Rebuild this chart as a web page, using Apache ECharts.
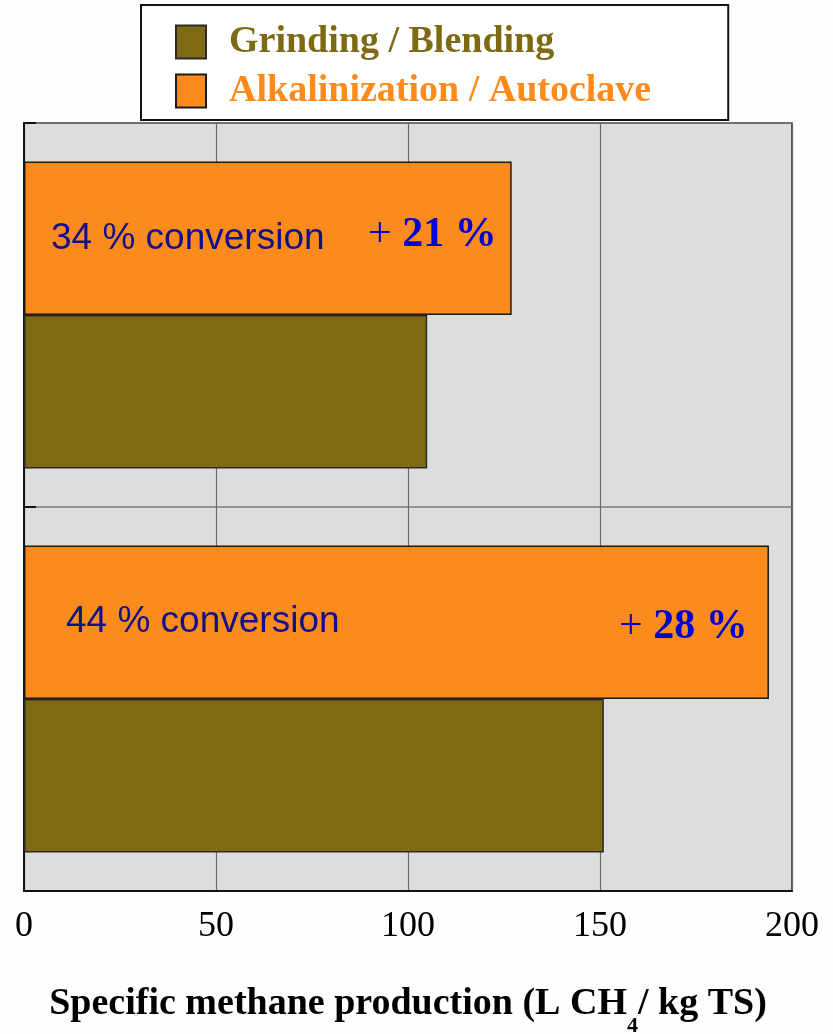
<!DOCTYPE html>
<html>
<head>
<meta charset="utf-8">
<title>Specific methane production</title>
<script src="https://cdn.jsdelivr.net/npm/echarts@6/dist/echarts.min.js"></script>
<style>
  html, body { margin: 0; padding: 0; background: #fdfffe; }
  #chart { width: 833px; height: 1034px; }
</style>
</head>
<body>
<div id="chart"></div>
<script>
// Category bands, bottom to top (ECharts lays a y category axis upwards)
const categories = ['44 % conversion', '34 % conversion'];
const seriesNames = ['Grinding / Blending', 'Alkalinization / Autoclave'];
// Specific methane production, L CH4 / kg TS
const grindingValues = [151, 105];
const alkalineValues = [194, 127];
// Gain of the alkaline / autoclave pretreatment, %
const gainPercent = [28, 21];
const xTicks = [0, 50, 100, 150, 200];

const OLIVE = '#7d6a13';
const ORANGE = '#fd8b1c';

// Per-bar label layout: conversion text at the left, gain at the right end
const labelLayout = [
  { distance: 42, gap: 553, offsetY: 0, plusShift: 5 },
  { distance: 27, gap: 317, offsetY: 1, plusShift: -4 }
];

function alkalineItem(v, i) {
  const L = labelLayout[i];
  const gainPad = L.plusShift > 0 ? [2 * L.plusShift, 0, 0, 0] : [0, 0, -2 * L.plusShift, 0];
  return {
    value: v,
    label: {
      show: true,
      position: 'insideLeft',
      distance: L.distance,
      offset: [0, L.offsetY],
      formatter: '{c|' + categories[i] + '}{p|+ }{n|' + gainPercent[i] + ' %}',
      rich: {
        c: { fontFamily: 'Liberation Sans, Arial, sans-serif', fontSize: 37, color: '#10108a', width: L.gap },
        p: { fontFamily: 'Liberation Serif, Times New Roman, serif', fontSize: 42, color: '#0000d2',
             fontWeight: 'normal', padding: gainPad },
        n: { fontFamily: 'Liberation Serif, Times New Roman, serif', fontSize: 42, color: '#0000d2',
             fontWeight: 'bold', padding: gainPad }
      }
    }
  };
}

const chart = echarts.init(document.getElementById('chart'), null, { renderer: 'canvas' });

chart.setOption({
  backgroundColor: '#fdfffe',
  animation: false,
  legend: {
    orient: 'vertical',
    left: 141,
    top: 5,
    padding: [18, 77, 10, 34],
    backgroundColor: '#ffffff',
    borderColor: '#111',
    borderWidth: 2,
    itemWidth: 30,
    itemHeight: 33,
    itemGap: 11,
    icon: 'rect',
    textStyle: {
      fontFamily: 'Liberation Serif, Times New Roman, serif',
      fontWeight: 'bold',
      fontSize: 38,
      padding: [0, 0, 0, 18]
    },
    data: [
      { name: seriesNames[0], textStyle: { color: OLIVE } },
      { name: seriesNames[1], textStyle: { color: ORANGE } }
    ]
  },
  grid: {
    left: 24,
    right: 41,
    top: 123,
    bottom: 143,
    outerBoundsMode: 'none',
    containLabel: false,
    show: true,
    backgroundColor: '#dcdedd',
    borderColor: '#222',
    borderWidth: 1.5
  },
  xAxis: {
    type: 'value',
    min: 0,
    max: 200,
    interval: 50,
    axisLine: { show: true, lineStyle: { color: '#111', width: 2 } },
    axisTick: { show: false },
    axisLabel: {
      margin: 18,
      color: '#000',
      fontFamily: 'Liberation Serif, Times New Roman, serif',
      fontSize: 36,
      formatter: function (v) { return xTicks.indexOf(v) >= 0 ? String(v) : ''; }
    },
    splitLine: { show: true, lineStyle: { color: '#6a6a6a', width: 1.2 } },
    name: '{a|Specific methane production (L CH}{s|4}{a|/ kg TS)}',
    nameLocation: 'middle',
    nameGap: 113,
    nameTextStyle: {
      verticalAlign: 'middle',
      rich: {
        a: { fontFamily: 'Liberation Serif, Times New Roman, serif', fontWeight: 'bold', fontSize: 38,
             color: '#000', lineHeight: 80 },
        s: { fontFamily: 'Liberation Serif, Times New Roman, serif', fontWeight: 'bold', fontSize: 22,
             color: '#000', lineHeight: 22, verticalAlign: 'top', padding: [51, 0, 0, 0] }
      }
    }
  },
  yAxis: {
    type: 'category',
    data: categories,
    axisLine: { show: true, lineStyle: { color: '#111', width: 2 } },
    axisTick: { show: true, inside: true, length: 12, lineStyle: { color: '#111', width: 2 } },
    axisLabel: { show: false },
    splitLine: { show: true, lineStyle: { color: '#7a7a7a', width: 1.5 } }
  },
  // The alkaline bar is listed first so it sits above the grinding bar in each band
  series: [
    {
      name: seriesNames[1],
      type: 'bar',
      barGap: '0%',
      barCategoryGap: '20%',
      itemStyle: { color: ORANGE, borderColor: '#1a1a1a', borderWidth: 1.5 },
      data: alkalineValues.map(alkalineItem)
    },
    {
      name: seriesNames[0],
      type: 'bar',
      barGap: '0%',
      barCategoryGap: '20%',
      itemStyle: { color: OLIVE, borderColor: '#2a2a2a', borderWidth: 1.5 },
      data: grindingValues
    }
  ]
});
</script>
</body>
</html>
